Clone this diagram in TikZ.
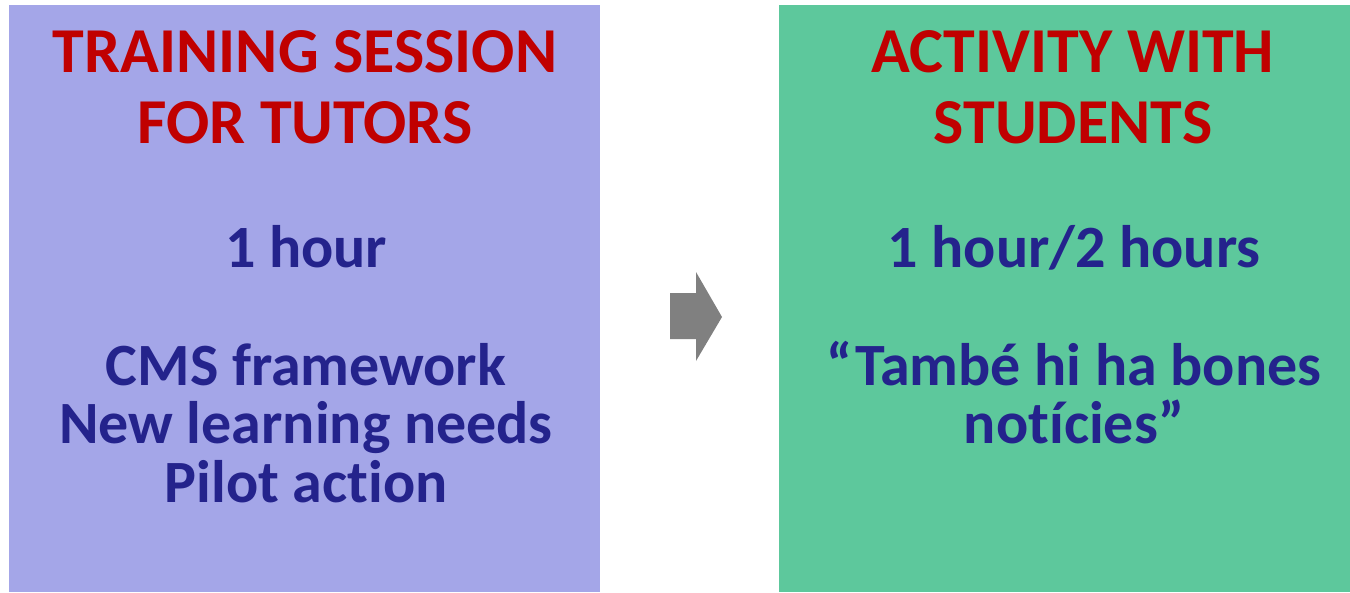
\documentclass[tikz,border=0pt]{standalone}
\usepackage{fontspec}
\setmainfont{Carlito}[Ligatures=NoCommon]
\usepackage{xcolor}
\usetikzlibrary{positioning}

\definecolor{tutorfill}{HTML}{A4A6E8}
\definecolor{studentfill}{HTML}{5DC89C}
\definecolor{headred}{HTML}{C00000}
\definecolor{bodyblue}{HTML}{24238C}
\definecolor{arrowgray}{HTML}{808080}

\tikzset{
  head/.style = {anchor=base, inner sep=0pt, text=headred,
    font=\fontsize{64}{70}\selectfont\bfseries},
  body/.style = {anchor=base, inner sep=0pt, text=bodyblue,
    font=\fontsize{60}{66}\selectfont\bfseries}
}

\begin{document}
\begin{tikzpicture}[x=1pt, y=-1pt]
\useasboundingbox (0,0) rectangle (1350,592);

% the two boxes
\fill[tutorfill] (9,5) rectangle (600,592);
\fill[studentfill] (779,5) rectangle (1350,592);

% left box
\node (t1) at (305,72) [head]{TRAINING SESSION};
\node (t2) at (305,143) [head]{FOR TUTORS};
\node (t3) at (306,267) [body]{1 hour};
\node (t4) at (306,385) [body]{CMS framework};
\node (t5) at (306,443) [body]{New learning needs};
\node (t6) at (306,502) [body]{Pilot action};

% right box
\node (s1) at (1073,72) [head]{ACTIVITY WITH};
\node (s2) at (1073,143) [head]{STUDENTS};
\node (s3) at (1074,267) [body]{1 hour/2 hours};
\node (s4) at (1074,385) [body]{“També hi ha bones};
\node (s5) at (1074,443) [body]{notícies”};

% arrow between
\fill[arrowgray] (670,293) -- (696,293) -- (696,272) -- (722,317)
  -- (696,361) -- (696,339) -- (670,339) -- cycle;

\end{tikzpicture}
\end{document}
